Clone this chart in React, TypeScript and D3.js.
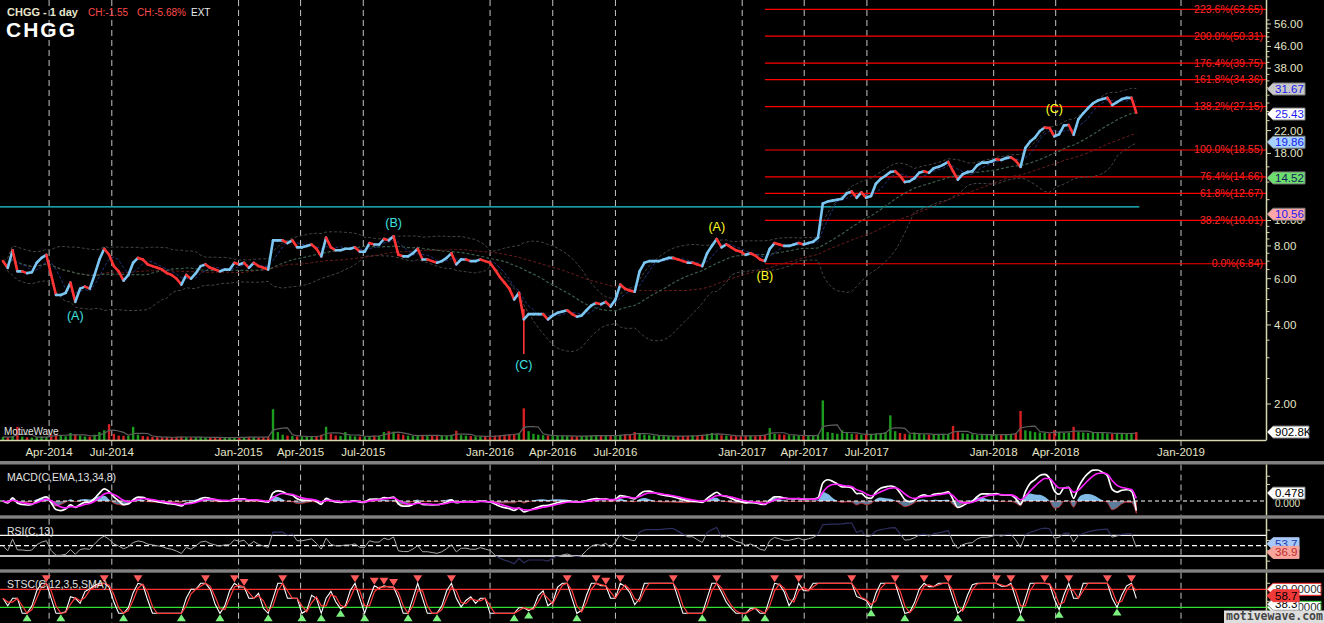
import React from 'react';
import * as d3 from 'd3';

// ---------------- data (weekly closes) ----------------
const FIRST_WEEK = new Date(2014, 0, 24);

const close2014 = [7.0, 6.6, 7.7, 6.4, 6.4, 6.3, 6.35, 6.9, 7.2, 7.4, 6.2, 5.2, 5.2, 5.3, 5.8, 4.9, 5.5, 5.6, 5.5, 6.2, 7.1, 7.8, 7.4, 6.7, 6.4, 5.9, 6.2, 6.9, 7.2, 7.1, 6.8, 6.7, 6.6, 6.5, 6.3, 6.2, 6.0, 5.7, 6.2, 6.0, 6.3, 6.7, 6.8, 6.6, 6.5, 6.4, 6.5, 6.5, 6.9];
const close2015 = [6.8, 6.9, 6.6, 6.9, 6.7, 6.6, 6.5, 8.4, 8.4, 8.4, 8.2, 8.4, 7.9, 7.9, 8.0, 8.1, 7.8, 7.3, 8.6, 7.9, 7.7, 7.7, 7.8, 7.8, 7.9, 7.6, 7.6, 8.2, 8.1, 8.1, 8.5, 8.4, 8.7, 7.4, 7.3, 7.3, 7.5, 7.8, 7.1, 7.1, 7.0, 6.9, 7.0, 7.2, 7.5, 6.8, 7.1, 7.1, 7.0, 7.0, 7.1, 7.0];
const close2016 = [6.9, 6.5, 6.1, 5.8, 5.5, 5.0, 5.3, 4.2, 4.4, 4.4, 4.4, 4.4, 4.2, 4.35, 4.45, 4.5, 4.55, 4.4, 4.3, 4.35, 4.55, 4.75, 4.85, 4.8, 4.9, 4.7, 5.0, 5.7, 5.5, 5.4, 5.35, 6.4, 6.9, 7.0, 7.0, 7.0, 7.1, 7.2, 7.2, 7.1, 7.0, 6.9, 6.9, 6.8, 6.7, 7.5, 8.0, 8.5, 7.9, 8.1, 7.9, 7.7, 7.6];
const close2017 = [7.4, 7.5, 7.35, 7.1, 7.0, 7.8, 8.2, 8.1, 8.0, 8.0, 8.1, 8.2, 8.1, 8.2, 8.3, 8.6, 11.6, 11.8, 11.9, 12.0, 12.1, 12.7, 12.9, 12.2, 12.8, 12.2, 12.4, 13.8, 14.4, 14.8, 15.3, 15.4, 14.8, 14.0, 14.1, 14.5, 15.2, 15.4, 15.2, 15.8, 16.0, 16.3, 16.7, 15.4, 14.3, 15.0, 15.3, 15.4, 16.2, 16.6, 16.6, 16.8];
const close2018 = [17.1, 17.0, 17.3, 17.4, 16.9, 16.0, 18.9, 20.0, 20.7, 21.9, 22.6, 22.5, 20.9, 21.3, 23.0, 23.1, 21.2, 24.3, 25.6, 26.8, 27.9, 28.6, 29.0, 29.3, 27.5, 28.2, 29.0, 29.3, 29.3, 25.74];

// weekly volume, thousands of shares
const vol2014 = [350, 300, 420, 1500, 380, 300, 280, 320, 400, 350, 600, 700, 450, 420, 800, 650, 500, 400, 380, 600, 900, 1100, 1800, 700, 500, 480, 450, 1500, 600, 450, 400, 350, 330, 300, 320, 300, 350, 380, 330, 300, 310, 330, 300, 290, 280, 300, 270, 260, 300];
const vol2015 = [320, 300, 350, 330, 300, 320, 380, 3500, 900, 600, 500, 450, 400, 420, 380, 400, 450, 600, 1500, 700, 500, 450, 900, 500, 420, 400, 380, 450, 500, 480, 900, 1000, 950, 700, 600, 500, 450, 480, 600, 550, 500, 450, 480, 500, 600, 1050, 550, 500, 450, 420, 400, 380];
const vol2016 = [450, 500, 550, 600, 650, 700, 800, 3600, 1000, 700, 600, 550, 500, 450, 480, 500, 450, 420, 400, 450, 480, 500, 520, 480, 450, 500, 550, 600, 650, 600, 900, 800, 600, 550, 500, 480, 450, 430, 420, 450, 460, 480, 500, 520, 600, 700, 800, 650, 550, 500, 480, 450, 430];
const vol2017 = [500, 520, 480, 550, 600, 1350, 700, 650, 600, 550, 520, 500, 480, 500, 520, 600, 4500, 900, 800, 700, 1100, 800, 700, 650, 600, 650, 700, 750, 800, 900, 2800, 1000, 800, 700, 650, 850, 700, 650, 600, 620, 650, 700, 680, 1600, 900, 750, 700, 650, 620, 600, 580, 600];
const vol2018 = [600, 620, 650, 700, 800, 3300, 1100, 1000, 900, 850, 800, 750, 1100, 900, 800, 850, 1500, 900, 850, 800, 900, 850, 800, 750, 700, 800, 750, 700, 720, 902.8];

// single-day wick (the (C) spike)
const wickIndex = [108];
const wickLow = [3.1];
const wickHigh = [4.6];

const dateTicks = [
  new Date(2014, 3, 1), new Date(2014, 6, 1), new Date(2015, 0, 1), new Date(2015, 3, 1), new Date(2015, 6, 1),
  new Date(2016, 0, 1), new Date(2016, 3, 1), new Date(2016, 6, 1), new Date(2017, 0, 1), new Date(2017, 3, 1),
  new Date(2017, 6, 1), new Date(2018, 0, 1), new Date(2018, 3, 1), new Date(2019, 0, 1),
];
const priceTicks = [2, 4, 6, 8, 10, 18, 22, 38, 46, 56];

const fibLabels = ['223.6%', '200.0%', '176.4%', '161.8%', '138.2%', '100.0%', '76.4%', '61.8%', '38.2%', '0.0%'];
const fibValues = [63.65, 50.31, 39.75, 34.36, 27.15, 18.55, 14.66, 12.67, 10.01, 6.84];
const fibStartIndex = 158;

const trendLineValue = 11.26;

const waveText = ['(A)', '(B)', '(C)', '(A)', '(B)', '(C)'];
const waveIndex = [15, 81, 108, 148, 158, 218];
const wavePrice = [4.33, 9.79, 2.84, 9.45, 6.15, 26.8];
const waveDegree = [0, 0, 0, 1, 1, 1];

const priceMarkers = [31.67, 25.43, 19.86, 14.52, 10.56];
const volumeMarker = 902.8;
const macdMarker = 0.478;
const rsiMarkers = [53.7, 36.9];
const stoLevels = [80, 20];
const stoMarkers = [38.3, 58.7];

// ---------------- helpers ----------------
const rollingMean = (a: number[], w: number) =>
  a.map((_, i) => d3.mean(a.slice(Math.max(0, i - w + 1), i + 1)) as number);
const rollingStd = (a: number[], w: number) =>
  a.map((_, i) => {
    const s = a.slice(Math.max(0, i - w + 1), i + 1);
    if (s.length < 2) return 0;
    const m = d3.mean(s) as number;
    return Math.sqrt(d3.mean(s, (v) => (v - m) ** 2) as number);
  });
const ema = (a: number[], alpha: number) => {
  let e = a[0];
  return a.map((v, i) => (i === 0 ? e : (e = e + alpha * (v - e))));
};

const FONT = "'Liberation Sans', Arial, Helvetica, sans-serif";
const AXIS_X = 1266;
const AXIS_COLOR = '#d8d8b0';
const LABEL_COLOR = '#e4e4c6';

function Marker({ y, text, bg, fg, w, stroke }: any) {
  return (
    <g>
      <polygon
        points={`${AXIS_X + 1},${y} ${AXIS_X + 7},${y - 6} ${AXIS_X + 7 + w},${y - 6} ${AXIS_X + 7 + w},${y + 6} ${AXIS_X + 7},${y + 6}`}
        fill={bg}
        stroke={stroke || '#7a7a7a'}
        strokeWidth={1}
      />
      <text x={AXIS_X + 9} y={y + 4} fontSize={11.5} fontFamily={FONT} fill={fg}>
        {text}
      </text>
    </g>
  );
}

export default function App() {
  const closes = [...close2014, ...close2015, ...close2016, ...close2017, ...close2018];
  const volumes = [...vol2014, ...vol2015, ...vol2016, ...vol2017, ...vol2018];
  const n = closes.length;
  const dates = closes.map((_, i) => d3.timeDay.offset(FIRST_WEEK, 7 * i));
  const idx = d3.range(n);

  // scales (trading-day axis, projected future area compressed)
  const x = d3
    .scaleTime()
    .domain([new Date(2014, 0, 1), dates[n - 1], new Date(2019, 0, 1)])
    .range([-12.9, 1136.3, 1181]);
  const y = d3.scaleLog().domain([2, 56]).range([404, 24]);
  const vy = d3.scaleLinear().domain([0, 5000]).range([440, 396]);
  const X = (i: number) => x(dates[i]);

  // overlays (weekly equivalents of the daily studies)
  const ma4 = rollingMean(closes, 4);
  const bbMid = rollingMean(closes, 20);
  const bbStd = rollingStd(closes, 20);
  const bbUp = bbMid.map((m, i) => m + 2 * bbStd[i]);
  const bbLo = bbMid.map((m, i) => Math.max(0.8, m - 2 * bbStd[i]));
  const ma40 = rollingMean(closes, 40);
  const volMa = rollingMean(volumes, 4);

  // MACD(13,34,8) in weeks
  const e13 = ema(closes, 2 / (13 / 5 + 1));
  const e34 = ema(closes, 2 / (34 / 5 + 1));
  const macd = e13.map((v, i) => v - e34[i]);
  const signal = ema(macd, 0.42);
  const hist = macd.map((v, i) => v - signal[i]);
  const macdMax = d3.max([...macd, ...signal]) as number;
  const my = d3.scaleLinear().domain([0, macdMax]).range([501, 470]);

  // RSI(13)
  const alpha = 1 / 9;
  let ag = 0.1, al = 0.1;
  const rsi = closes.map((c, i) => {
    if (i === 0) return 50;
    const ch = c - closes[i - 1];
    ag = ag + alpha * (Math.max(ch, 0) - ag);
    al = al + alpha * (Math.max(-ch, 0) - al);
    return 100 - 100 / (1 + ag / al);
  });
  const ry = d3.scaleLinear().domain([0, 100]).range([571.5, 519.8]);

  // Stochastic
  const rawK = closes.map((c, i) => {
    const w = closes.slice(Math.max(0, i - 3), i + 1);
    const lo = d3.min(w) as number, hi = d3.max(w) as number;
    return hi === lo ? 50 : ((c - lo) / (hi - lo)) * 100;
  });
  const stoK = rollingMean(rawK, 2);
  const stoD = rollingMean(stoK, 2);
  const sy = d3.scaleLinear().domain([0, 100]).range([613.3, 583.3]);
  const tops = idx.filter((i) => i > 0 && i < n - 1 && stoK[i] >= 80 && stoK[i] >= stoK[i - 1] && stoK[i] > stoK[i + 1]);
  const bottoms = idx.filter((i) => i > 0 && i < n - 1 && stoK[i] <= 20 && stoK[i] <= stoK[i - 1] && stoK[i] < stoK[i + 1]);

  const lineOf = (vals: number[], ys: any, curve: any = d3.curveLinear) =>
    (d3.line<number>().x((i) => X(i)).y((i) => ys(vals[i])).curve(curve))(idx) as string;

  const gridSegments = [[0, 447], [464.5, 515.3], [518.7, 569.3], [572.7, 623]];
  const fmt = d3.timeFormat('%b-%Y');
  const minorTicks = [...d3.range(2.5, 10, 0.5), ...d3.range(12, 60, 2)].filter((v) => !priceTicks.includes(v));
  const fibX0 = X(fibStartIndex);
  const waveColors = ['#3fe2e2', '#ffff22'];

  const histArea = d3
    .area<number>()
    .x((i) => X(i))
    .y0(my(0))
    .y1((i) => my(hist[i]))
    .curve(d3.curveMonotoneX)(idx) as string;

  return (
    <svg
      width={1324}
      height={623}
      style={{ position: 'fixed', left: 0, top: 0, background: '#000', display: 'block' }}
      fontFamily={FONT}
    >
      <defs>
        <clipPath id="cMain"><rect x={0} y={0} width={AXIS_X} height={440} /></clipPath>
        <clipPath id="cMacd"><rect x={0} y={464.5} width={AXIS_X} height={50.8} /></clipPath>
        <clipPath id="cMacdPos"><rect x={0} y={464.5} width={AXIS_X} height={my(0) - 464.5} /></clipPath>
        <clipPath id="cMacdNeg"><rect x={0} y={my(0)} width={AXIS_X} height={515.3 - my(0)} /></clipPath>
        <clipPath id="cRsiIn"><rect x={0} y={ry(70)} width={AXIS_X} height={ry(30) - ry(70)} /></clipPath>
        <clipPath id="cRsiOut">
          <rect x={0} y={518.7} width={AXIS_X} height={ry(70) - 518.7} />
          <rect x={0} y={ry(30)} width={AXIS_X} height={569.3 - ry(30)} />
        </clipPath>
        <clipPath id="cSto"><rect x={0} y={572.7} width={AXIS_X} height={50.3} /></clipPath>
      </defs>
      <rect x={0} y={0} width={1324} height={623} fill="#000" />

      {/* vertical dashed grid */}
      {dateTicks.map((d, k) =>
        gridSegments.map(([a, b], j) => (
          <line key={`g${k}-${j}`} x1={x(d)} x2={x(d)} y1={a} y2={b} stroke="#c4c4c4" strokeWidth={1} strokeDasharray="6,4" />
        ))
      )}

      {/* main panel */}
      <g clipPath="url(#cMain)">
        {fibValues.map((v, k) => (
          <text key={`fl${k}`} x={1263} y={y(v) + 3.5} textAnchor="end" fontSize={10.5} fill="#ff2a2a">
            {`${fibLabels[k]}(${v.toFixed(2)})`}
          </text>
        ))}
        {fibValues.map((v, k) => (
          <line key={`f${k}`} x1={fibX0} x2={AXIS_X} y1={y(v)} y2={y(v)} stroke="#ff0000" strokeWidth={1.2} />
        ))}
        <line x1={0} x2={X(n - 1) + 3} y1={y(trendLineValue)} y2={y(trendLineValue)} stroke="#22d0d8" strokeWidth={1.3} />

        {/* studies */}
        <path d={lineOf(bbUp, y)} fill="none" stroke="#444444" strokeWidth={1} strokeDasharray="3,2" />
        <path d={lineOf(bbLo, y)} fill="none" stroke="#444444" strokeWidth={1} strokeDasharray="3,2" />
        <path d={lineOf(ma40, y)} fill="none" stroke="#6a1c1c" strokeWidth={1} strokeDasharray="3,2" />
        <path d={lineOf(bbMid, y)} fill="none" stroke="#3b5d4a" strokeWidth={1.2} strokeDasharray="3,2" />
        <path d={lineOf(ma4, y)} fill="none" stroke="#22347e" strokeWidth={1} strokeDasharray="3,2" />

        {/* volume */}
        {volumes.map((v, i) => (
          <rect
            key={`v${i}`}
            x={X(i) - 1.2}
            width={2.4}
            y={vy(v)}
            height={440 - vy(v)}
            fill={i > 0 && closes[i] < closes[i - 1] ? '#d42020' : '#1c9c1c'}
          />
        ))}
        <path d={lineOf(volMa, vy)} fill="none" stroke="#5e5e5e" strokeWidth={1.2} />

        {/* price */}
        {wickIndex.map((wi, k) => (
          <line key={`w${k}`} x1={X(wi)} x2={X(wi)} y1={y(wickHigh[k])} y2={y(wickLow[k])} stroke="#ff3434" strokeWidth={1.6} />
        ))}
        {idx.slice(1).map((i) => (
          <line
            key={`p${i}`}
            x1={X(i - 1)}
            y1={y(closes[i - 1])}
            x2={X(i)}
            y2={y(closes[i])}
            stroke={closes[i] >= closes[i - 1] ? '#7cc6f2' : '#ff3434'}
            strokeWidth={2.6}
            strokeLinecap="round"
          />
        ))}

        {waveText.map((t, k) => (
          <text
            key={`wl${k}`}
            x={X(waveIndex[k])}
            y={y(wavePrice[k]) + 4.5}
            textAnchor="middle"
            fontSize={12.5}
            fill={waveColors[waveDegree[k]]}
          >
            {t}
          </text>
        ))}
        <text x={4} y={435} fontSize={10} fill="#e2e2e2">MotiveWave</text>
      </g>

      {/* main axes */}
      <line x1={0} x2={AXIS_X} y1={440.5} y2={440.5} stroke={AXIS_COLOR} strokeWidth={1.5} />
      <line x1={AXIS_X + 0.5} x2={AXIS_X + 0.5} y1={0} y2={440.5} stroke={AXIS_COLOR} strokeWidth={1.5} />
      {minorTicks.map((v) => (
        <line key={`mt${v}`} x1={AXIS_X} x2={AXIS_X + 3.5} y1={y(v)} y2={y(v)} stroke={AXIS_COLOR} />
      ))}
      {priceTicks.map((v) => (
        <g key={`pt${v}`}>
          <line x1={AXIS_X} x2={AXIS_X + 5} y1={y(v)} y2={y(v)} stroke={AXIS_COLOR} />
          <text x={AXIS_X + 8} y={y(v) + 4} fontSize={11.5} fill={LABEL_COLOR}>{v.toFixed(2)}</text>
        </g>
      ))}
      {dateTicks.map((d, k) => (
        <text key={`dt${k}`} x={x(d)} y={456} textAnchor="middle" fontSize={11.5} fill={LABEL_COLOR}>{fmt(d)}</text>
      ))}

      {/* right-side price markers */}
      <Marker y={y(priceMarkers[0])} text={priceMarkers[0].toFixed(2)} bg="#c8c8c8" fg="#1a1aee" w={32} />
      <Marker y={y(priceMarkers[1])} text={priceMarkers[1].toFixed(2)} bg="#ffffff" fg="#1a1aee" w={32} />
      <Marker y={y(priceMarkers[2])} text={priceMarkers[2].toFixed(2)} bg="#a6d2ff" fg="#1a1aee" w={32} />
      <Marker y={y(priceMarkers[3])} text={priceMarkers[3].toFixed(2)} bg="#6ede6e" fg="#14205a" w={32} />
      <Marker y={y(priceMarkers[4])} text={priceMarkers[4].toFixed(2)} bg="#ffa6a6" fg="#1a1aee" w={32} />
      <Marker y={vy(volumeMarker)} text={`${volumeMarker}K`} bg="#ffffff" fg="#000000" w={36} />

      {/* separators */}
      <rect x={0} y={461} width={1324} height={3.5} fill="#808080" />
      <rect x={0} y={515.3} width={1324} height={3.4} fill="#808080" />
      <rect x={0} y={569.3} width={1324} height={3.4} fill="#808080" />

      {/* MACD panel */}
      <g clipPath="url(#cMacd)">
        <path d={histArea} clipPath="url(#cMacdPos)" fill="#7fbbe6" />
        <path d={histArea} clipPath="url(#cMacdNeg)" fill="#5c7c9c" stroke="#d03030" strokeWidth={0.8} />
        <line x1={0} x2={AXIS_X} y1={my(0)} y2={my(0)} stroke="#ffffff" strokeDasharray="4,3" />
        <path d={lineOf(macd, my, d3.curveMonotoneX)} fill="none" stroke="#ffffff" strokeWidth={1.7} />
        <path d={lineOf(signal, my, d3.curveMonotoneX)} fill="none" stroke="#ff22ff" strokeWidth={1.6} />
      </g>
      <text x={7} y={481} fontSize={10.5} fill="#e2e2e2">MACD(C,EMA,13,34,8)</text>
      <line x1={AXIS_X + 0.5} x2={AXIS_X + 0.5} y1={464.5} y2={515.3} stroke={AXIS_COLOR} strokeWidth={1.5} />
      {[0.5, 1, 1.5].map((v) => (
        <line key={`mk${v}`} x1={AXIS_X} x2={AXIS_X + 4} y1={my(v)} y2={my(v)} stroke={AXIS_COLOR} />
      ))}
      <text x={AXIS_X + 9} y={my(0) + 6} fontSize={10} fill={LABEL_COLOR}>0.000</text>
      <Marker y={my(macdMarker)} text={macdMarker.toFixed(3)} bg="#ffffff" fg="#000000" w={32} />

      {/* RSI panel */}
      <line x1={0} x2={AXIS_X} y1={ry(70)} y2={ry(70)} stroke="#ffffff" strokeWidth={1.3} />
      <line x1={0} x2={AXIS_X} y1={ry(30)} y2={ry(30)} stroke="#ffffff" strokeWidth={1.3} />
      <line x1={0} x2={AXIS_X} y1={ry(50)} y2={ry(50)} stroke="#ffffff" strokeWidth={1.3} strokeDasharray="5,3" />
      <path d={lineOf(rsi, ry)} clipPath="url(#cRsiIn)" fill="none" stroke="#a8a8a8" strokeWidth={1} />
      <path d={lineOf(rsi, ry)} clipPath="url(#cRsiOut)" fill="none" stroke="#2e2e5e" strokeWidth={1.2} />
      <text x={7} y={535} fontSize={10.5} fill="#e2e2e2">RSI(C,13)</text>
      <line x1={AXIS_X + 0.5} x2={AXIS_X + 0.5} y1={518.7} y2={569.3} stroke={AXIS_COLOR} strokeWidth={1.5} />
      {[20, 40, 60, 80].map((v) => (
        <line key={`rk${v}`} x1={AXIS_X} x2={AXIS_X + 4} y1={ry(v)} y2={ry(v)} stroke={AXIS_COLOR} />
      ))}
      <Marker y={ry(rsiMarkers[0])} text={rsiMarkers[0].toFixed(1)} bg="#a8c8f8" fg="#1a3ab0" w={26} stroke="#a8c8f8" />
      <Marker y={ry(rsiMarkers[1])} text={rsiMarkers[1].toFixed(1)} bg="#f6a49c" fg="#c02a2a" w={26} stroke="#f6a49c" />

      {/* Stochastic panel */}
      <line x1={0} x2={AXIS_X} y1={sy(80)} y2={sy(80)} stroke="#ff3030" strokeWidth={1.3} />
      <line x1={0} x2={AXIS_X} y1={sy(20)} y2={sy(20)} stroke="#30e030" strokeWidth={1.3} />
      <g clipPath="url(#cSto)">
        <path d={lineOf(stoK, sy)} fill="none" stroke="#ffffff" strokeWidth={1.1} />
        <path d={lineOf(stoD, sy)} fill="none" stroke="#ff3a3a" strokeWidth={1.2} />
        {tops.map((i) => {
          const px = X(i), py = sy(stoK[i]) - 1;
          return <path key={`tt${i}`} d={`M${px - 4.5},${py - 7} L${px + 4.5},${py - 7} L${px},${py} Z`} fill="#ff5a5a" />;
        })}
        {bottoms.map((i) => {
          const px = X(i), py = sy(stoK[i]) + 1;
          return <path key={`tb${i}`} d={`M${px - 4.5},${py + 7} L${px + 4.5},${py + 7} L${px},${py} Z`} fill="#7cf07c" />;
        })}
      </g>
      <text x={7} y={588} fontSize={10.5} fill="#e2e2e2">STSC(C,12,3,5,SMA)</text>
      <line x1={AXIS_X + 0.5} x2={AXIS_X + 0.5} y1={572.7} y2={623} stroke={AXIS_COLOR} strokeWidth={1.5} />
      {[20, 40, 60, 80, 100].map((v) => (
        <line key={`sk${v}`} x1={AXIS_X} x2={AXIS_X + 4} y1={sy(v)} y2={sy(v)} stroke={AXIS_COLOR} />
      ))}
      <Marker y={sy(stoLevels[0])} text={stoLevels[0].toFixed(5)} bg="#ffffff" fg="#303030" w={48} stroke="#ff3030" />
      <Marker y={sy(stoLevels[1])} text={stoLevels[1].toFixed(5)} bg="#ffffff" fg="#303030" w={48} stroke="#30d030" />
      <Marker y={sy(stoMarkers[0]) + 2.5} text={stoMarkers[0].toFixed(1)} bg="#ffffff" fg="#000000" w={26} />
      <Marker y={sy(stoMarkers[1])} text={stoMarkers[1].toFixed(1)} bg="#f03a3a" fg="#000000" w={26} stroke="#f03a3a" />

      {/* watermark */}
      <rect x={1224} y={610.5} width={100} height={12.5} fill="#dedede" />
      <text x={1226} y={620} fontSize={11.5} fontWeight="bold" fontFamily="'DejaVu Sans Mono', monospace" fill="#454545">
        motivewave.com
      </text>

      {/* header */}
      <text x={7} y={16} fontSize={11} fontWeight="bold" fill="#e6e6cc">CHGG - 1 day</text>
      <text x={88} y={15.5} fontSize={10} fill="#ff4a4a">CH:-1.55</text>
      <text x={137} y={15.5} fontSize={10} fill="#ff4a4a">CH:-5.68%</text>
      <text x={191} y={15.5} fontSize={10} fill="#ececec">EXT</text>
      <text x={6} y={37} fontSize={21} fontWeight="bold" letterSpacing={2} fill="#ffffff">CHGG</text>
    </svg>
  );
}
